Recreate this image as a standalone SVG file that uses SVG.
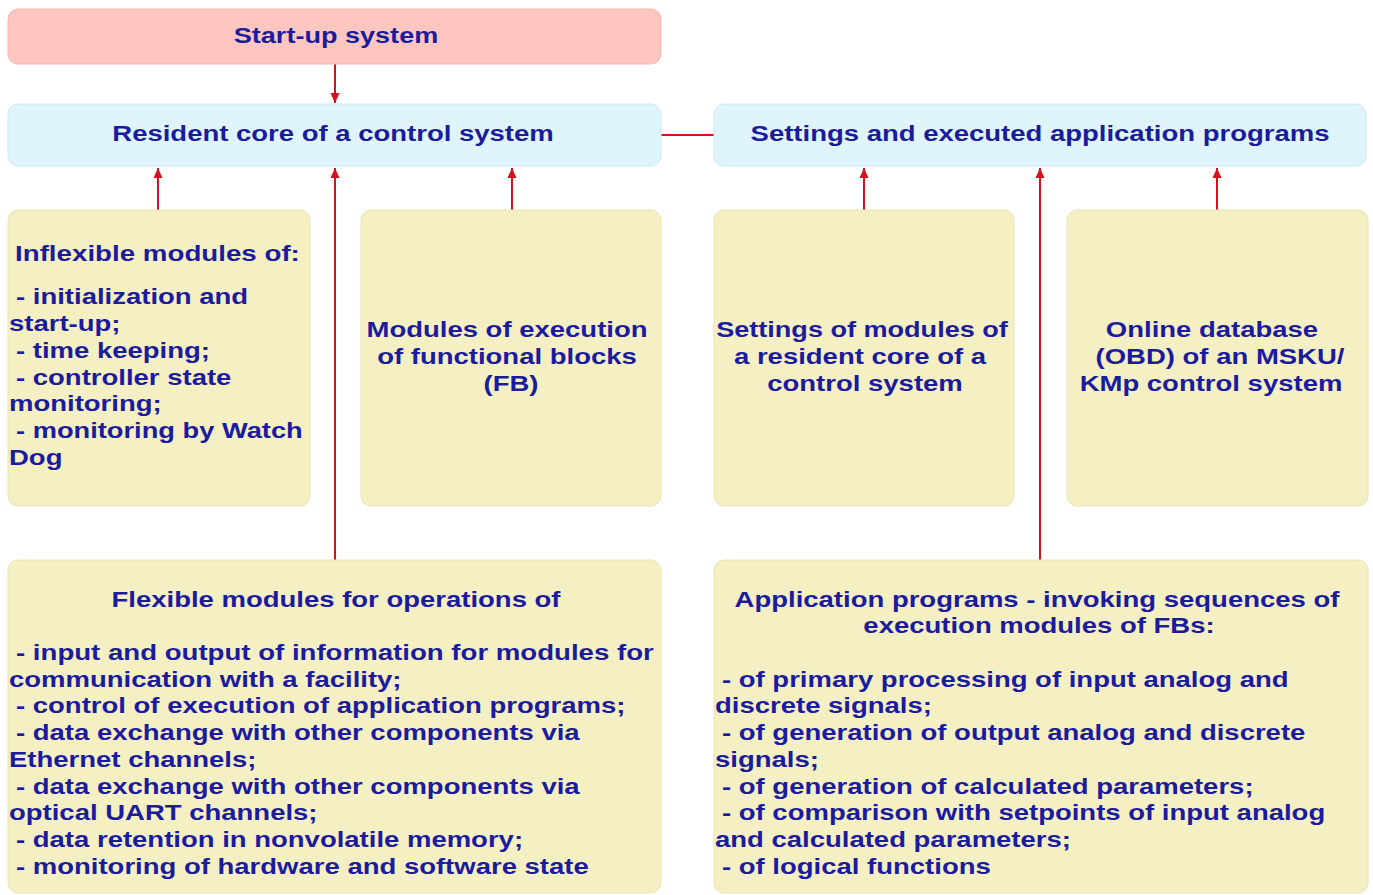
<svg xmlns="http://www.w3.org/2000/svg" width="1373" height="895" viewBox="0 0 1373 895">
<style>
  text { font-family: "Liberation Sans", Arial, sans-serif; font-weight: bold; font-size: 22px; fill: #1b1b9e; }
  .c { text-anchor: middle; }
  .pink { fill: #fdc6c1; stroke: #f3b7b2; stroke-width: 1; }
  .cyan { fill: #dff4fb; stroke: #cfe9f3; stroke-width: 1; }
  .yel { fill: #f5efc4; stroke: #ebe4b4; stroke-width: 1; }
  .con { stroke: #d2121c; stroke-width: 2; fill: none; }
</style>
<defs>
  <marker id="ah" markerUnits="userSpaceOnUse" markerWidth="10" markerHeight="12" refX="11" refY="5" orient="auto" viewBox="0 0 11 10">
    <path d="M0,0 L11,5 L0,10 z" fill="#d2121c"/>
  </marker>
</defs>
<rect width="1373" height="895" fill="#ffffff"/>

<g id="connectors">
  <line class="con" x1="335" y1="64" x2="335" y2="103" marker-end="url(#ah)"/>
  <line class="con" x1="661" y1="135" x2="714" y2="135"/>
  <line class="con" x1="158" y1="210" x2="158" y2="168" marker-end="url(#ah)"/>
  <line class="con" x1="512" y1="210" x2="512" y2="168" marker-end="url(#ah)"/>
  <line class="con" x1="335" y1="560" x2="335" y2="168" marker-end="url(#ah)"/>
  <line class="con" x1="864" y1="210" x2="864" y2="168" marker-end="url(#ah)"/>
  <line class="con" x1="1040" y1="560" x2="1040" y2="168" marker-end="url(#ah)"/>
  <line class="con" x1="1217" y1="210" x2="1217" y2="168" marker-end="url(#ah)"/>
</g>

<g id="startup">
  <rect class="pink" x="8" y="9" width="653" height="55" rx="10"/>
  <text class="c" transform="translate(336,43) scale(1.23,1)">Start-up system</text>
</g>

<g id="resident">
  <rect class="cyan" x="8" y="104" width="653" height="62" rx="10"/>
  <text class="c" transform="translate(333,141) scale(1.25,1)">Resident core of a control system</text>
</g>

<g id="settings">
  <rect class="cyan" x="714" y="104" width="652" height="62" rx="10"/>
  <text class="c" transform="translate(1040,141) scale(1.25,1)">Settings and executed application programs</text>
</g>

<g id="inflexible">
  <rect class="yel" x="8" y="210" width="302" height="296" rx="10"/>
  <text transform="translate(15,261) scale(1.26,1)">Inflexible modules of:</text>
  <text transform="translate(16,304) scale(1.25,1)">- initialization and</text>
  <text transform="translate(9,331) scale(1.25,1)">start-up;</text>
  <text transform="translate(16,358) scale(1.25,1)">- time keeping;</text>
  <text transform="translate(16,385) scale(1.25,1)">- controller state</text>
  <text transform="translate(9,411) scale(1.25,1)">monitoring;</text>
  <text transform="translate(16,438) scale(1.24,1)">- monitoring by Watch</text>
  <text transform="translate(9,465) scale(1.25,1)">Dog</text>
</g>

<g id="fb-modules">
  <rect class="yel" x="361" y="210" width="300" height="296" rx="10"/>
  <text class="c" transform="translate(507,337) scale(1.25,1)">Modules of execution</text>
  <text class="c" transform="translate(507,364) scale(1.25,1)">of functional blocks</text>
  <text class="c" transform="translate(511,391) scale(1.25,1)">(FB)</text>
</g>

<g id="settings-modules">
  <rect class="yel" x="714" y="210" width="300" height="296" rx="10"/>
  <text class="c" transform="translate(862,337) scale(1.23,1)">Settings of modules of</text>
  <text class="c" transform="translate(860,364) scale(1.25,1)">a resident core of a</text>
  <text class="c" transform="translate(865,391) scale(1.25,1)">control system</text>
</g>

<g id="online-db">
  <rect class="yel" x="1067" y="210" width="301" height="296" rx="10"/>
  <text class="c" transform="translate(1212,337) scale(1.25,1)">Online database</text>
  <text class="c" transform="translate(1220,364) scale(1.25,1)">(OBD) of an MSKU/</text>
  <text class="c" transform="translate(1211,391) scale(1.25,1)">KMp control system</text>
</g>

<g id="flexible">
  <rect class="yel" x="8" y="560" width="653" height="333" rx="10"/>
  <text class="c" transform="translate(336,607) scale(1.25,1)">Flexible modules for operations of</text>
  <text transform="translate(16,660) scale(1.255,1)">- input and output of information for modules for</text>
  <text transform="translate(9,687) scale(1.25,1)">communication with a facility;</text>
  <text transform="translate(16,713) scale(1.25,1)">- control of execution of application programs;</text>
  <text transform="translate(16,740) scale(1.25,1)">- data exchange with other components via</text>
  <text transform="translate(9,767) scale(1.25,1)">Ethernet channels;</text>
  <text transform="translate(16,794) scale(1.25,1)">- data exchange with other components via</text>
  <text transform="translate(9,820) scale(1.25,1)">optical UART channels;</text>
  <text transform="translate(16,847) scale(1.25,1)">- data retention in nonvolatile memory;</text>
  <text transform="translate(16,874) scale(1.25,1)">- monitoring of hardware and software state</text>
</g>

<g id="application">
  <rect class="yel" x="714" y="560" width="654" height="333" rx="10"/>
  <text class="c" transform="translate(1037,607) scale(1.25,1)">Application programs - invoking sequences of</text>
  <text class="c" transform="translate(1039,633) scale(1.25,1)">execution modules of FBs:</text>
  <text transform="translate(722,687) scale(1.25,1)">- of primary processing of input analog and</text>
  <text transform="translate(715,713) scale(1.25,1)">discrete signals;</text>
  <text transform="translate(722,740) scale(1.25,1)">- of generation of output analog and discrete</text>
  <text transform="translate(715,767) scale(1.25,1)">signals;</text>
  <text transform="translate(722,794) scale(1.25,1)">- of generation of calculated parameters;</text>
  <text transform="translate(722,820) scale(1.25,1)">- of comparison with setpoints of input analog</text>
  <text transform="translate(715,847) scale(1.25,1)">and calculated parameters;</text>
  <text transform="translate(722,874) scale(1.25,1)">- of logical functions</text>
</g>
</svg>
